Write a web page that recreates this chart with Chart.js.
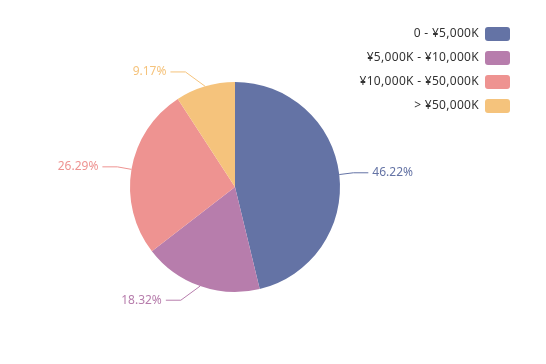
<!DOCTYPE html>
<html><head><meta charset="utf-8">
<style>html,body{margin:0;padding:0;background:#fff;}#wrap{width:546px;height:364px;position:relative;}</style>
<script src="https://cdn.jsdelivr.net/npm/chart.js@4"></script>
</head><body><div id="wrap"><canvas id="c" width="546" height="364"></canvas></div>
<script>
const categories = ['0 - ¥5,000K', '¥5,000K - ¥10,000K', '¥10,000K - ¥50,000K', '> ¥50,000K'];
const values = [46.22, 18.32, 26.29, 9.17];
const valueLabels = ['46.22%', '18.32%', '26.29%', '9.17%'];
const colors = ['#6473a5', '#b77dac', '#ee9391', '#f5c37c'];

const FONT = '12px "Noto Sans", "DejaVu Sans", sans-serif';

const outLabels = {
  id: 'outLabels',
  afterDatasetsDraw(chart) {
    const ctx = chart.ctx;
    const meta = chart.getDatasetMeta(0);
    ctx.save();
    ctx.font = FONT;
    meta.data.forEach((arc, i) => {
      const p = arc.getProps(['x','y','startAngle','endAngle','outerRadius'], true);
      const mid = (p.startAngle + p.endAngle) / 2;
      const dx = Math.cos(mid), dy = Math.sin(mid);
      const x1 = p.x + dx * p.outerRadius, y1 = p.y + dy * p.outerRadius;
      const sign = dx >= 0 ? 1 : -1;
      const x2 = x1 + sign * (14 + 8 * (1 - Math.abs(dx)));
      const y2 = y1 + dy * 15;
      const x3 = x2 + sign * 15;
      ctx.strokeStyle = colors[i];
      ctx.lineWidth = 1;
      ctx.beginPath();
      ctx.moveTo(x1, y1); ctx.lineTo(x2, y2); ctx.lineTo(x3, y2);
      ctx.stroke();
      ctx.fillStyle = colors[i];
      ctx.textBaseline = 'middle';
      ctx.textAlign = sign > 0 ? 'left' : 'right';
      ctx.fillText(valueLabels[i], x3 + sign * 4, y2);
    });
    ctx.restore();
  }
};

const rightLegend = {
  id: 'rightLegend',
  afterDraw(chart) {
    const ctx = chart.ctx;
    ctx.save();
    ctx.font = FONT;
    ctx.letterSpacing = '0.3px';
    const labels = chart.data.labels;
    const bg = chart.data.datasets[0].backgroundColor;
    labels.forEach((lab, i) => {
      const cy = 34 + i * 24;
      const bx = 485, bw = 25, bh = 14;
      ctx.fillStyle = bg[i];
      ctx.beginPath();
      ctx.roundRect(bx, cy - bh / 2, bw, bh, 3);
      ctx.fill();
      ctx.fillStyle = '#333';
      ctx.textAlign = 'right';
      ctx.textBaseline = 'middle';
      ctx.fillText(lab, bx - 6, cy);
    });
    ctx.restore();
  }
};

new Chart(document.getElementById('c'), {
  type: 'pie',
  data: {
    labels: categories,
    datasets: [{ data: values, backgroundColor: colors, borderWidth: 0, hoverOffset: 0 }]
  },
  options: {
    responsive: false,
    animation: false,
    events: [],
    layout: { padding: { left: 130, right: 206, top: 82, bottom: 72 } },
    plugins: { legend: { display: false }, tooltip: { enabled: false } }
  },
  plugins: [outLabels, rightLegend]
});
</script></body></html>
